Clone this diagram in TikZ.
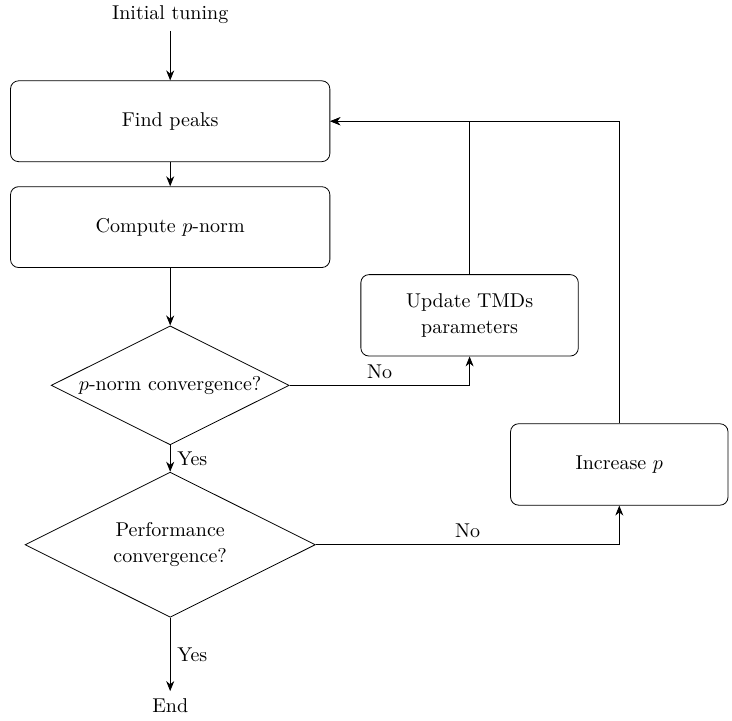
\documentclass[tikz,border=0pt]{standalone}
\usepackage{amsmath,amssymb}
\usetikzlibrary{shapes.geometric,arrows.meta}

\begin{document}
\begin{tikzpicture}[>={Stealth[length=5pt,width=4pt,inset=1.6pt]},
    bigbox/.style={draw,rounded corners,minimum width=5.61cm,minimum height=1.42cm},
    smallbox/.style={draw,rounded corners,align=center,minimum width=3.82cm,minimum height=1.43cm},
    test/.style={draw,diamond,aspect=2,inner sep=0pt,align=center}]
       \useasboundingbox (0,0) rectangle (12.86,-12.65);
       % main column
       \node (init) at (2.99,-0.26) {Initial tuning};
       \node[bigbox] (find) at (2.99,-2.13) {Find peaks};
       \node[bigbox] (comp) at (2.99,-3.99) {Compute $p$-norm};
       \node[test,minimum width=4.18cm,minimum height=2.09cm] (pconv) at (2.99,-6.77) {$p$-norm convergence?};
       \node[test,minimum width=5.10cm,minimum height=2.55cm] (perf) at (2.99,-9.57) {Performance\\[1pt]convergence?};
       \node (finish) at (2.99,-12.39) {End};
       % side boxes
       \node[smallbox] (upd) at (8.25,-5.54) {Update TMDs\\[1pt]parameters};
       \node[smallbox] (incr) at (10.88,-8.16) {Increase $p$};
       % connectors
       \draw[->] (init) -- (find);
       \draw[->] (find) -- (comp);
       \draw[->] (comp) -- (pconv);
       \draw[->] (pconv) -- node[right] {Yes} (perf);
       \draw[->] (perf) -- node[right] {Yes} (finish);
       \draw[->] (pconv.east) -| node[pos=0.25,above] {No} (upd.south);
       \draw[->] (perf.east) -| node[pos=0.25,above] {No} (incr.south);
       \draw[->] (upd.north) |- (find.east);
       \draw[->] (incr.north) |- (find.east);
\end{tikzpicture}
\end{document}
